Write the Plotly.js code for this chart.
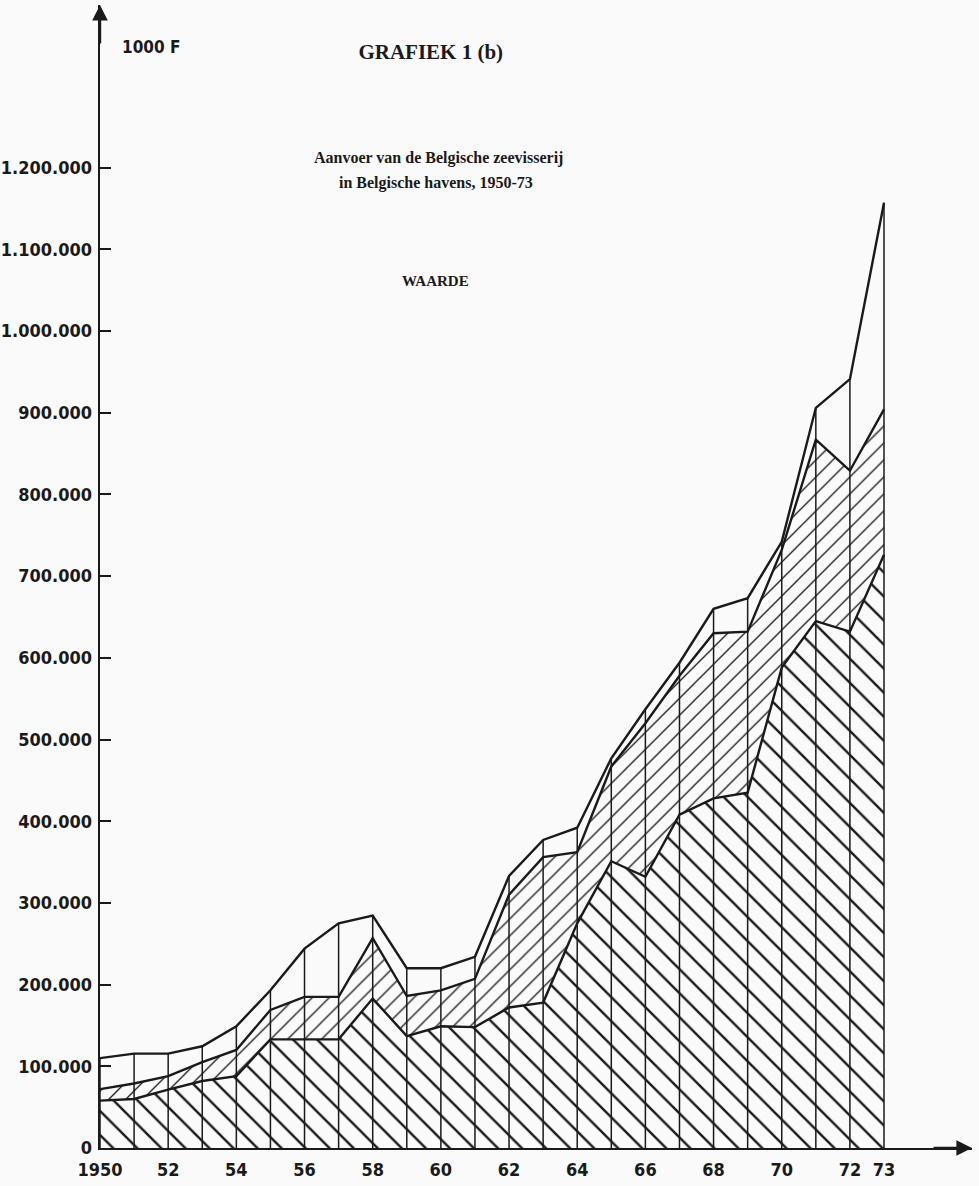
<!DOCTYPE html>
<html>
<head>
<meta charset="utf-8">
<script src="https://cdn.plot.ly/plotly-3.0.1.min.js"></script>
<style>
  html, body { margin: 0; padding: 0; background: #fafafa; }
  #chart { width: 979px; height: 1186px; }
</style>
</head>
<body>
<div id="chart"></div>
<script>
// ---- data (values in 1000 F) ----
const years = [1950, 1951, 1952, 1953, 1954, 1955, 1956, 1957, 1958, 1959, 1960, 1961,
               1962, 1963, 1964, 1965, 1966, 1967, 1968, 1969, 1970, 1971, 1972, 1973];

// upper boundary of the lowest (\\\ hatched) band
const bottomBand = [58000, 60000, 71500, 82000, 88000, 133000, 133000, 133000, 183000, 137000, 149000, 148000,
                    172000, 178000, 275000, 351000, 332000, 408000, 428000, 435000, 588000, 645000, 632000, 726000];
// upper boundary of the middle (/// hatched) band
const middleBand = [72000, 79000, 88000, 105000, 120000, 169000, 185000, 185000, 257000, 186000, 193000, 207000,
                    310000, 356000, 362000, 467000, 520000, 578000, 630000, 632000, 732000, 867000, 829000, 904000];
// total value (upper boundary of the open band)
const totalBand = [110000, 115500, 115500, 124500, 149000, 193000, 244000, 275000, 284500, 220000, 220000, 234000,
                   333000, 377000, 392000, 477000, 537000, 594000, 660000, 673000, 742000, 906000, 941000, 1157000];

const xTickVals = [1950, 1952, 1954, 1956, 1958, 1960, 1962, 1964, 1966, 1968, 1970, 1972, 1973];
const xTickText = ['1950', '52', '54', '56', '58', '60', '62', '64', '66', '68', '70', '72', '73'];
const yTickVals = [0, 100000, 200000, 300000, 400000, 500000, 600000, 700000, 800000, 900000, 1000000, 1100000, 1200000];
const yTickText = ['0', '100.000', '200.000', '300.000', '400.000', '500.000', '600.000', '700.000', '800.000',
                   '900.000', '1.000.000', '1.100.000', '1.200.000'];

const titleText = 'GRAFIEK 1 (b)';
const subtitle1 = 'Aanvoer van de Belgische zeevisserij';
const subtitle2 = 'in Belgische havens, 1950-73';
const measureText = 'WAARDE';
const unitText = '1000 F';

// ---- drawing ----
const BG = '#fafafa';
const INK = '#1a1a1a';
const tickFont = { family: '"DejaVu Sans Condensed", "Liberation Sans Narrow", sans-serif', size: 18, color: INK, weight: 'bold' };
const serif = '"Liberation Serif", "DejaVu Serif", serif';

// vertical year lines from zero to the total
const vx = [], vy = [];
years.forEach((yr, i) => { vx.push(yr, yr, null); vy.push(0, totalBand[i], null); });

const traces = [
  {
    x: years, y: bottomBand, type: 'scatter', mode: 'lines', name: 'onderste band',
    fill: 'tozeroy', fillcolor: BG,
    fillpattern: { shape: '\\', size: 17, solidity: 0.14, fgcolor: INK, bgcolor: BG },
    line: { color: INK, width: 2.4 }, hoverinfo: 'skip'
  },
  {
    x: years, y: middleBand, type: 'scatter', mode: 'lines', name: 'middelste band',
    fill: 'tonexty', fillcolor: BG,
    fillpattern: { shape: '/', size: 12, solidity: 0.11, fgcolor: INK, bgcolor: BG },
    line: { color: INK, width: 2.4 }, hoverinfo: 'skip'
  },
  {
    x: years, y: totalBand, type: 'scatter', mode: 'lines', name: 'totaal',
    fill: 'tonexty', fillcolor: BG,
    line: { color: INK, width: 2.4 }, hoverinfo: 'skip'
  },
  {
    x: vx, y: vy, type: 'scatter', mode: 'lines', name: 'jaren',
    line: { color: INK, width: 1.5 }, hoverinfo: 'skip', connectgaps: false
  }
];

const pxPerYear = (884 - 100) / 23;
const plotW = 979 - 100 - 7;

const layout = {
  width: 979, height: 1186,
  paper_bgcolor: BG, plot_bgcolor: BG,
  showlegend: false,
  margin: { l: 100, r: 7, t: 5, b: 38 },
  title: {
    text: titleText, x: 0.44, xref: 'container', y: 1 - 52 / 1186, yref: 'container',
    xanchor: 'center', yanchor: 'middle',
    font: { family: serif, size: 21, color: INK, weight: 'bold' }
  },
  xaxis: {
    range: [1950, 1950 + plotW / pxPerYear],
    tickmode: 'array', tickvals: xTickVals, ticktext: xTickText,
    ticks: '', showgrid: false, zeroline: false,
    showline: true, linecolor: INK, linewidth: 2.4,
    tickfont: tickFont, ticklabelstandoff: 4
  },
  yaxis: {
    range: [0, 1143 / 0.000817],
    tickmode: 'array', tickvals: yTickVals, ticktext: yTickText,
    ticks: 'inside', ticklen: 11, tickwidth: 2, tickcolor: INK,
    showgrid: false, zeroline: false,
    showline: true, linecolor: INK, linewidth: 2.4,
    tickfont: tickFont, ticklabelstandoff: 2
  },
  annotations: [
    { text: '', xref: 'paper', yref: 'paper', x: 0, y: 1, showarrow: true, ax: 0, ay: 40,
      arrowhead: 2, arrowsize: 1.3, arrowwidth: 2.4, arrowcolor: INK },
    { text: '', xref: 'paper', yref: 'paper', x: 1, y: 0, showarrow: true, ax: -40, ay: 0,
      arrowhead: 2, arrowsize: 1.3, arrowwidth: 2.4, arrowcolor: INK },
    { text: unitText, xref: 'paper', yref: 'paper', x: (120 - 100) / plotW, y: 1 - (47 - 5) / 1143,
      xanchor: 'left', yanchor: 'middle', showarrow: false,
      font: { family: tickFont.family, size: 17, color: INK, weight: 'bold' } },
    { text: subtitle1, xref: 'paper', yref: 'paper', x: (438 - 100) / plotW, y: 1 - (158 - 5) / 1143,
      xanchor: 'center', yanchor: 'middle', showarrow: false,
      font: { family: serif, size: 16, color: INK, weight: 'bold' } },
    { text: subtitle2, xref: 'paper', yref: 'paper', x: (436 - 100) / plotW, y: 1 - (183 - 5) / 1143,
      xanchor: 'center', yanchor: 'middle', showarrow: false,
      font: { family: serif, size: 16, color: INK, weight: 'bold' } },
    { text: measureText, xref: 'paper', yref: 'paper', x: (435 - 100) / plotW, y: 1 - (281 - 5) / 1143,
      xanchor: 'center', yanchor: 'middle', showarrow: false,
      font: { family: serif, size: 15, color: INK, weight: 'bold' } }
  ]
};

Plotly.newPlot('chart', traces, layout, { displayModeBar: false, staticPlot: true });
</script>
</body>
</html>
